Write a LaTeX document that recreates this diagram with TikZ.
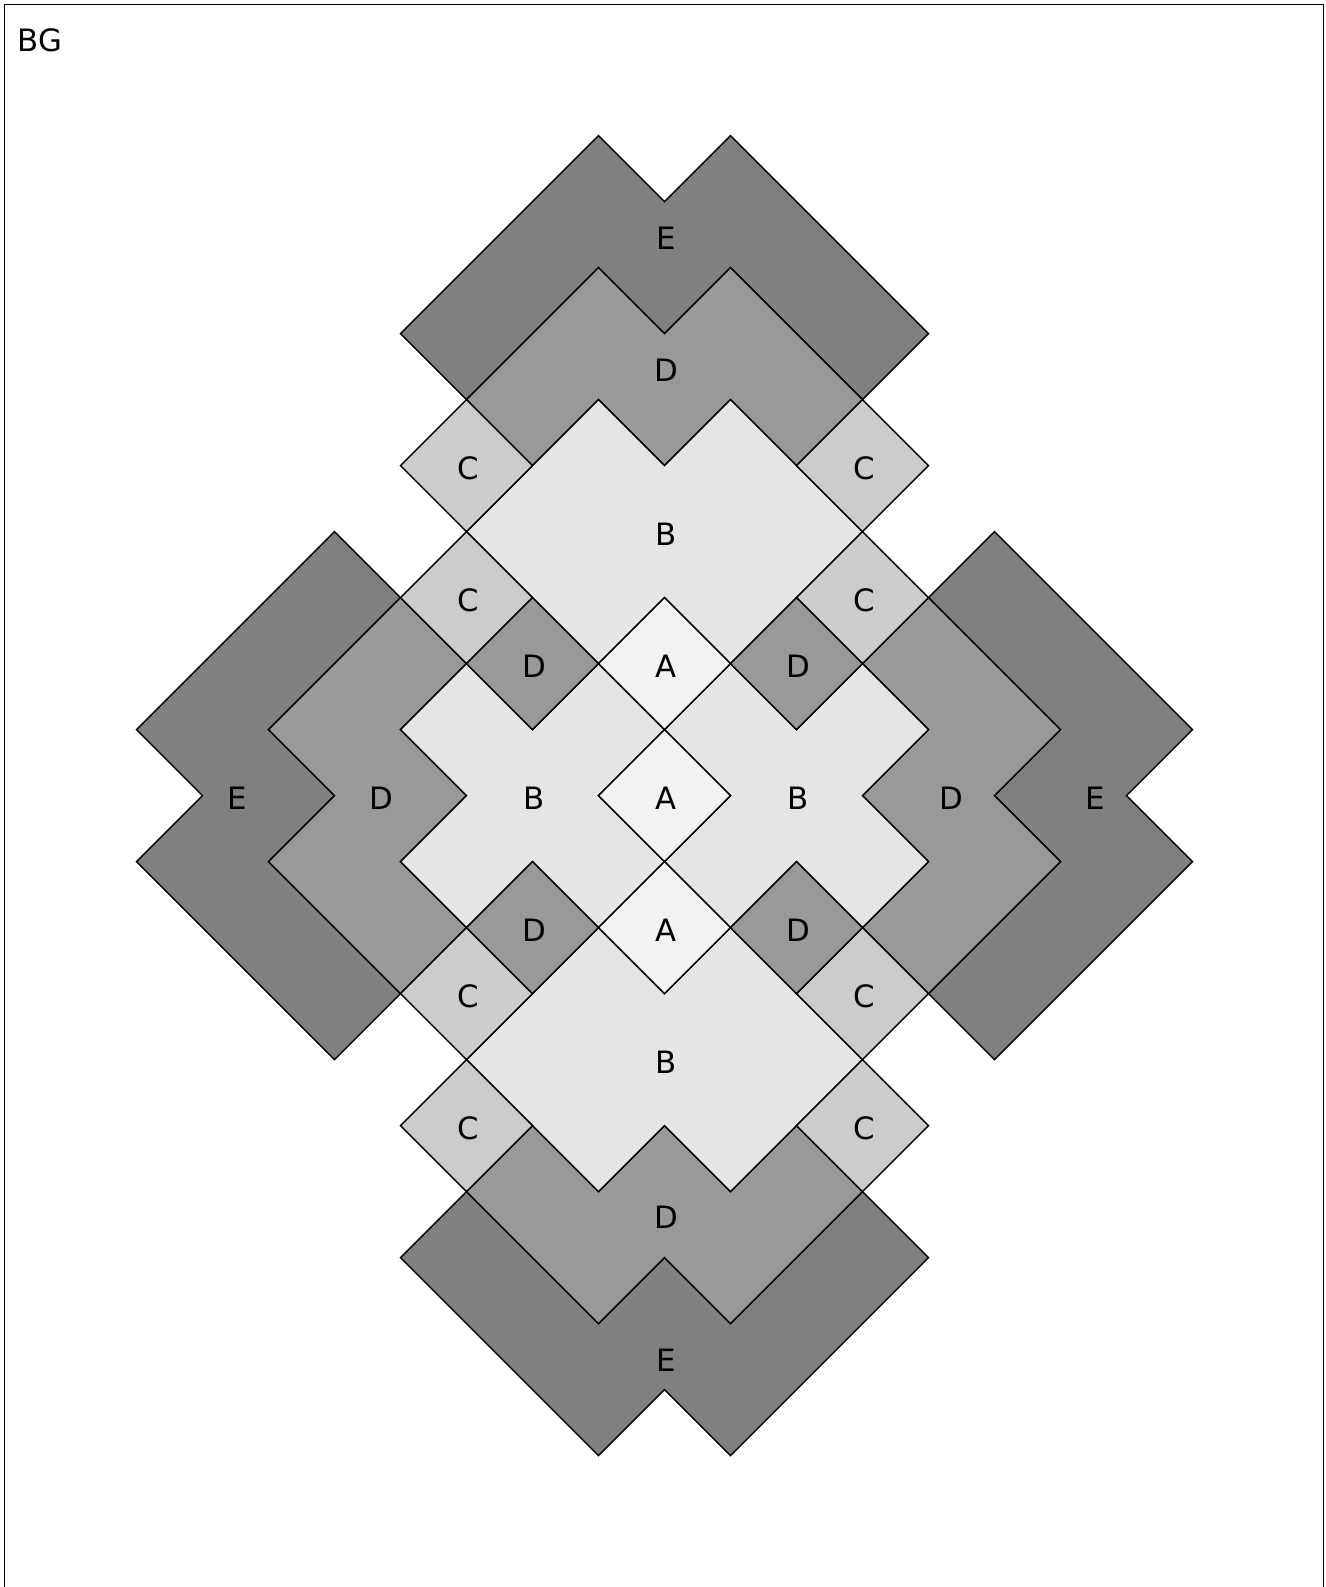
\documentclass[tikz,border=0pt]{standalone}
\usepackage{fontspec}
\setmainfont{DejaVu Sans}
\definecolor{cA}{HTML}{F2F2F2}
\definecolor{cB}{HTML}{E5E5E5}
\definecolor{cC}{HTML}{CCCCCC}
\definecolor{cD}{HTML}{999999}
\definecolor{cE}{HTML}{808080}
\tikzset{
  piece/.style={draw=black, line width=0.75pt, line join=miter},
  lab/.style={inner sep=0pt, yshift=-1.5pt, xshift=0.75pt, font=\fontsize{15.4}{18}\selectfont},
}
\newcommand\dia[3]{\draw[piece, fill=#1, shift={(#2,#3)}] (0,-1) -- (1,0) -- (0,1) -- (-1,0) -- cycle;}
\begin{document}
\begin{tikzpicture}[x=0.5pt,y=-0.5pt]
\useasboundingbox (0,0) rectangle (1326,1587);
\fill[white] (0,0) rectangle (1326,1587);
\draw[line width=0.75pt] (4.5,4.5) rectangle (1323.5,1588);
\node[inner sep=0pt, font=\fontsize{15.4}{18}\selectfont, anchor=base west] (bg) at (17,51) {BG};
\begin{scope}[shift={(664.5,795.6)}, x=33.0pt, y=-33.0pt]
  % top and bottom groups
  \foreach \s in {1,-1} {
    \begin{scope}[yscale=\s]
      \draw[piece, fill=cE] (-1,-10) -- (0,-9) -- (1,-10) -- (4,-7) -- (3,-6) -- (1,-8) -- (0,-7) -- (-1,-8) -- (-3,-6) -- (-4,-7) -- cycle;
      \draw[piece, fill=cD] (-1,-8) -- (0,-7) -- (1,-8) -- (3,-6) -- (2,-5) -- (1,-6) -- (0,-5) -- (-1,-6) -- (-2,-5) -- (-3,-6) -- cycle;
      \draw[piece, fill=cB] (-1,-6) -- (0,-5) -- (1,-6) -- (3,-4) -- (1,-2) -- (0,-3) -- (-1,-2) -- (-3,-4) -- cycle;
    \end{scope}
    \begin{scope}[xscale=\s]
      \draw[piece, fill=cE] (-5,-4) -- (-4,-3) -- (-6,-1) -- (-5,0) -- (-6,1) -- (-4,3) -- (-5,4) -- (-8,1) -- (-7,0) -- (-8,-1) -- cycle;
      \draw[piece, fill=cD] (-4,-3) -- (-3,-2) -- (-4,-1) -- (-3,0) -- (-4,1) -- (-3,2) -- (-4,3) -- (-6,1) -- (-5,0) -- (-6,-1) -- cycle;
      \draw[piece, fill=cB] (-3,-2) -- (-2,-1) -- (-1,-2) -- (0,-1) -- (-1,0) -- (0,1) -- (-1,2) -- (-2,1) -- (-3,2) -- (-4,1) -- (-3,0) -- (-4,-1) -- cycle;
    \end{scope}
  }
  \foreach \x in {-3,3} { \foreach \y in {-5,-3,3,5} { \dia{cC}{\x}{\y} } }
  \foreach \x in {-2,2} { \foreach \y in {-2,2} { \dia{cD}{\x}{\y} } }
  \dia{cA}{0}{-2}
  \dia{cA}{0}{0}
  \dia{cA}{0}{2}
  % labels
  \node[lab] (Et) at (0,-8.49) {E};
  \node[lab] (Dt) at (0,-6.49) {D};
  \node[lab] (Bt) at (0,-4) {B};
  \node[lab] (Eb) at (0,8.51) {E};
  \node[lab] (Db) at (0,6.35) {D};
  \node[lab] (Bb) at (0,4) {B};
  \node[lab] (El) at (-6.5,0) {E};
  \node[lab] (Dl) at (-4.32,0) {D};
  \node[lab] (Bl) at (-2,0) {B};
  \node[lab] (Er) at (6.5,0) {E};
  \node[lab] (Dr) at (4.32,0) {D};
  \node[lab] (Br) at (2,0) {B};
  \node[lab] (At) at (0,-2) {A};
  \node[lab] (Ac) at (0,0) {A};
  \node[lab] (Ab) at (0,2) {A};
  \node[lab] (C1) at (-3,-5) {C};
  \node[lab] (C2) at (3,-5) {C};
  \node[lab] (C3) at (-3,-3) {C};
  \node[lab] (C4) at (3,-3) {C};
  \node[lab] (C5) at (-3,3) {C};
  \node[lab] (C6) at (3,3) {C};
  \node[lab] (C7) at (-3,5) {C};
  \node[lab] (C8) at (3,5) {C};
  \node[lab] (D1) at (-2,-2) {D};
  \node[lab] (D2) at (2,-2) {D};
  \node[lab] (D3) at (-2,2) {D};
  \node[lab] (D4) at (2,2) {D};
\end{scope}
\end{tikzpicture}
\end{document}
